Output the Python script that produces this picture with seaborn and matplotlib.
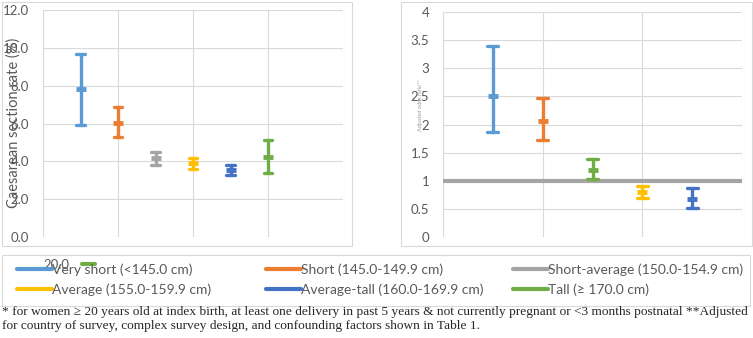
import numpy as np
import pandas as pd
import seaborn as sns
import matplotlib.pyplot as plt
from matplotlib.lines import Line2D
from matplotlib.patches import Rectangle

# categories and colours
groups = ['Very short (<145.0 cm)', 'Short (145.0-149.9 cm)', 'Short-average (150.0-154.9 cm)',
          'Average (155.0-159.9 cm)', 'Average-tall (160.0-169.9 cm)', 'Tall (\u2265 170.0 cm)']
colors = ['#5B9BD5', '#ED7D31', '#A5A5A5', '#FFC000', '#4472C4', '#70AD47']

# left panel: caesarean section rate (%)
rate_mid = [7.8, 6.05, 4.2, 3.9, 3.55, 4.25]
rate_lo = [5.9, 5.3, 3.8, 3.6, 3.3, 3.4]
rate_hi = [9.7, 6.85, 4.5, 4.2, 3.8, 5.15]

# right panel: adjusted odds ratio (ref = short-average)
or_groups = [groups[0], groups[1], groups[5], groups[3], groups[4]]
or_mid = [2.5, 2.07, 1.2, 0.8, 0.67]
or_lo = [1.86, 1.72, 1.04, 0.69, 0.52]
or_hi = [3.39, 2.48, 1.38, 0.9, 0.88]
REF_OR = 1

footnote = ('* for women \u2265 20 years old at index birth, at least one delivery in past 5 years & not currently '
            'pregnant or <3 months postnatal **Adjusted\nfor country of survey, complex survey design, and '
            'confounding factors shown in Table 1.')

sns.set_style('white')
plt.rcParams['font.family'] = ['Lato', 'DejaVu Sans']

W, H = 753, 338
fig = plt.figure(figsize=(W / 100, H / 100), dpi=100)
pal = dict(zip(groups, colors))
grid_c = '#D9D9D9'
tick_c = '#595959'


def long_df(cats, lo, mid, hi):
    rows = []
    for c, a, m, b in zip(cats, lo, mid, hi):
        for v in (a, m, b):
            rows.append({'group': c, 'value': v})
    return pd.DataFrame(rows)


def draw(ax, cats, lo, mid, hi, cap):
    df = long_df(cats, lo, mid, hi)
    sns.pointplot(data=df, x='group', y='value', hue='group', order=cats, hue_order=cats,
                  palette=pal, estimator='median', errorbar=lambda v: (v.min(), v.max()),
                  markers='_', linestyles='none', capsize=cap, dodge=False, legend=False,
                  err_kws={'linewidth': 2.4}, markersize=7, markeredgewidth=3.5, ax=ax)
    for s in ax.spines.values():
        s.set_visible(False)
    ax.grid(True, color=grid_c, linewidth=0.8)
    ax.set_axisbelow(True)
    ax.set_xlabel('')
    ax.set_ylabel('')
    ax.tick_params(axis='both', length=0, colors=tick_c, labelsize=9.5, pad=10)


ax1 = fig.add_axes([43 / W, 1 - 237 / H, 300 / W, 227 / H])
draw(ax1, groups, rate_lo, rate_mid, rate_hi, 0.22)
ax1.set_xticks([-1, 1, 3, 5, 7])
ax1.set_xticklabels([])
ax1.set_xlim(-1, 7)
ax1.set_ylim(0, 12)
ax1.set_yticks(np.arange(0, 12.1, 2))
ax1.set_yticklabels(['%.1f' % t for t in np.arange(0, 12.1, 2)])

ax2 = fig.add_axes([443 / W, 1 - 237 / H, 299 / W, 225 / H])
ax2.axhline(REF_OR, color='#A5A5A5', linewidth=3, zorder=1)
draw(ax2, or_groups, or_lo, or_mid, or_hi, 0.22)
ax2.set_xticks([-1, 1, 3, 5])
ax2.set_xticklabels([])
ax2.set_xlim(-1, 5)
ax2.set_ylim(0, 4)
ax2.set_yticks(np.arange(0, 4.01, 0.5))
ax2.set_yticklabels(['%g' % t for t in np.arange(0, 4.01, 0.5)])

# chart frames and legend frame
for x0, y0, x1, y1 in [(2, 2, 352, 246), (401, 2, 752, 246), (2, 255, 750, 306)]:
    fig.patches.append(Rectangle((x0 / W, 1 - y1 / H), (x1 - x0) / W, (y1 - y0) / H,
                                 transform=fig.transFigure, fill=False, edgecolor=grid_c, linewidth=0.8))

fig.text(14 / W, 1 - 123 / H, 'Caesarean section rate (%)', rotation=90, ha='center', va='center',
         fontsize=10.5, color=tick_c)
fig.text(421 / W, 1 - 105 / H, 'Adjusted odds ratio**', rotation=90, ha='center', va='center',
         fontsize=4, color='#9a9a9a')

# legend: three columns of two rows
for col, x0 in enumerate([17, 266, 513]):
    idx = [col, col + 3]
    hs = [Line2D([], [], color=colors[i], linewidth=3) for i in idx]
    leg = fig.legend(hs, [groups[i] for i in idx], loc='upper left',
                     bbox_to_anchor=(x0 / W, 1 - 263 / H), frameon=False, fontsize=10,
                     handlelength=2.5, handletextpad=0.05, borderaxespad=0, borderpad=0,
                     labelspacing=0.55)
    for t in leg.get_texts():
        t.set_color(tick_c)

fig.text(43 / W, 1 - 265 / H, '20.0', fontsize=9.5, color=tick_c, va='center')
fig.add_artist(Line2D([82 / W, 95 / W], [1 - 264 / H, 1 - 264 / H], color='#70AD47', linewidth=3))

fig.text(2 / W, 1 - 319 / H, footnote, fontsize=9.6, va='center', ha='left',
         family=['Liberation Serif', 'DejaVu Serif'], linespacing=1.15)

fig.savefig('out.png', dpi=100)
